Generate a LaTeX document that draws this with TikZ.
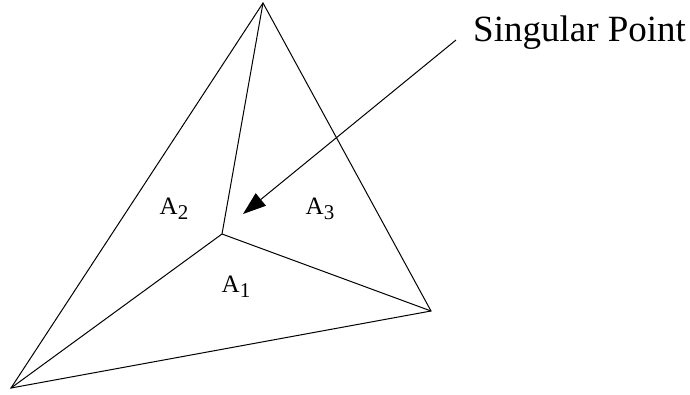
\documentclass[tikz,border=0pt]{standalone}
\usepackage{fontspec}
\setmainfont{Liberation Serif}
\usetikzlibrary{arrows.meta, positioning}
\tikzset{
  edge/.style={line width=1pt, line join=miter},
  region/.style={font=\fontsize{25}{28}\selectfont, inner sep=0pt},
  callout/.style={font=\fontsize{37}{40}\selectfont, inner sep=0pt, anchor=base west},
  pointer/.style={line width=1pt, -{Triangle[length=23pt, width=16pt]}}
}
\newcommand{\areaname}[1]{A\raisebox{-5pt}{\fontsize{21}{21}\selectfont #1}}

\begin{document}
\begin{tikzpicture}[x=1pt, y=-1pt]
    \useasboundingbox (0,0) rectangle (690,394);

    % Vertices
    \coordinate (apex) at (263,3);
    \coordinate (left) at (11,388);
    \coordinate (right) at (431,311);
    \coordinate (sing) at (222,234);

    % Outer triangle
    \draw [edge] (apex) -- (left) -- (right) -- cycle;

    % Inner edges
    \draw [edge] (sing) -- (apex);
    \draw [edge] (sing) -- (left);
    \draw [edge] (sing) -- (right);

    % Areas
    \node (a2) [region] at (174,209) {\areaname{2}};
    \node (a3) [region] at (320,209) {\areaname{3}};
    \node (a1) [region] at (236,287) {\areaname{1}};

    % Label and pointer
    \node (label) [callout] at (473,41) {Singular Point};
    \coordinate (tail) at (456,40);
    \coordinate (tip) at (243,214);
    \draw [pointer] (tail) -- (tip);

\end{tikzpicture}
\end{document}
